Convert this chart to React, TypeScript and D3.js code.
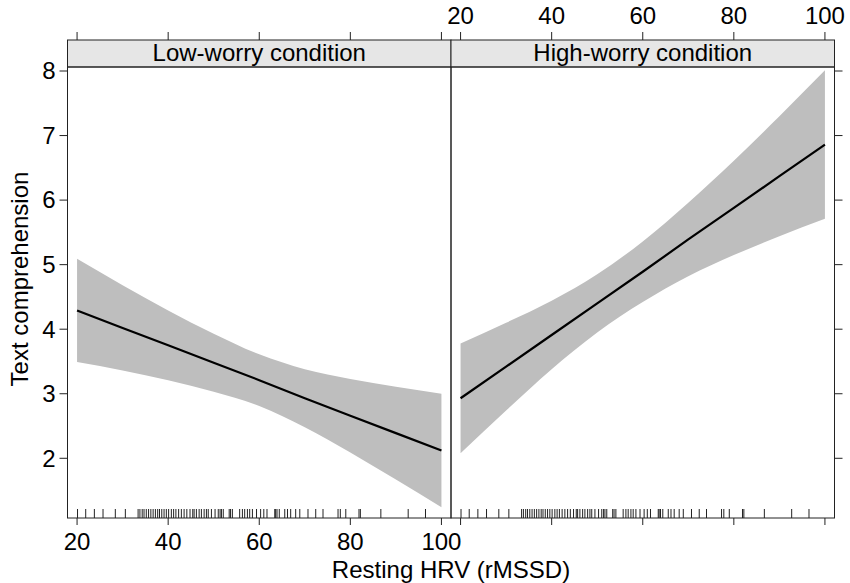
import React from 'react'
import * as d3 from 'd3'

// values, at these HRV points
const hrv = [20, 30, 40, 50, 60, 70, 80, 90, 100]

const lowFit = [4.29, 4.02, 3.75, 3.48, 3.21, 2.93, 2.66, 2.39, 2.12]
const lowUpper = [5.09, 4.68, 4.29, 3.93, 3.61, 3.38, 3.23, 3.11, 3.0]
const lowLower = [3.49, 3.36, 3.21, 3.03, 2.81, 2.48, 2.09, 1.67, 1.24]

const highFit = [2.93, 3.42, 3.91, 4.4, 4.89, 5.39, 5.88, 6.37, 6.86]
const highUpper = [3.78, 4.1, 4.44, 4.85, 5.36, 5.96, 6.61, 7.3, 8.01]
const highLower = [2.08, 2.74, 3.38, 3.95, 4.42, 4.82, 5.15, 5.44, 5.71]

// observed resting HRV values (rug)
const rug = [
    20.1, 21.9, 23.8, 25.7, 28.4, 30.6, 33.4, 33.8, 34.3, 34.7, 35.2, 35.7, 36.2, 36.7,
    37.2, 37.7, 38.1, 38.6, 39.1, 39.6, 40.1, 40.7, 41.2, 41.7, 42.3, 42.9, 43.5, 44.1,
    44.8, 45.4, 45.7, 46.2, 46.8, 47.3, 47.9, 48.4, 48.8, 49.5, 50.3, 51.0, 51.4, 51.7,
    52.1, 53.4, 53.7, 54.1, 55.7, 56.3, 56.8, 57.4, 57.9, 58.5, 59.4, 60.3, 61.0, 61.7,
    63.4, 63.6, 63.9, 64.4, 65.6, 66.2, 66.9, 68.0, 68.9, 70.7, 72.4, 74.0, 77.3, 77.8,
    79.0, 81.9, 82.2, 86.7, 92.7, 96.5,
]

const xTicks = [20, 40, 60, 80, 100]
const yTicks = [2, 3, 4, 5, 6, 7, 8]
const panels = ['Low-worry condition', 'High-worry condition']

const width = 850,
    height = 583
const top = 67,
    bottom = 518,
    left = 67.5,
    panelW = 383.5,
    stripH = 27,
    tick = 8
const font = 'Liberation Sans, Arial, Helvetica, sans-serif'

const App = () => {
    const y = d3.scaleLinear().domain([1.075, 8.062]).range([bottom, top])

    const series = [
        { fit: lowFit, upper: lowUpper, lower: lowLower },
        { fit: highFit, upper: highUpper, lower: highLower },
    ]

    return (
        <svg width={width} height={height} style={{ position: 'absolute', left: 0, top: 0 }} fontFamily={font}>
            <rect width={width} height={height} fill="white" />
            {series.map((s, p) => {
                const x0 = left + p * panelW
                const x = d3.scaleLinear().domain([17.9, 102.1]).range([x0, x0 + panelW])
                const pts = hrv.map((h, i) => ({ h, fit: s.fit[i], up: s.upper[i], lo: s.lower[i] }))
                const band = d3.area<any>()
                    .x(d => x(d.h))
                    .y0(d => y(d.lo))
                    .y1(d => y(d.up))
                    .curve(d3.curveMonotoneX)
                const line = d3.line<any>().x(d => x(d.h)).y(d => y(d.fit))
                // lattice alternates axes: left panel labels below, right panel above
                const labelBelow = p === 0
                return (
                    <g key={p}>
                        <path d={band(pts) || ''} fill="#bebebe" />
                        <path d={line(pts) || ''} fill="none" stroke="black" strokeWidth={2.2} />
                        {rug.map((r, i) => (
                            <line key={i} x1={x(r)} x2={x(r)} y1={bottom} y2={bottom - 9} stroke="#222" strokeWidth={1} />
                        ))}
                        {/* strip */}
                        <rect x={x0} y={top - stripH} width={panelW} height={stripH} fill="#e6e6e6" stroke="#222" />
                        <text x={x0 + panelW / 2} y={top - 6} textAnchor="middle" fontSize={24}>
                            {panels[p]}
                        </text>
                        <rect x={x0} y={top} width={panelW} height={bottom - top} fill="none" stroke="#222" />
                        {xTicks.map(t => (
                            <g key={t}>
                                <line x1={x(t)} x2={x(t)} y1={bottom} y2={bottom + tick - 1} stroke="#222" />
                                <line x1={x(t)} x2={x(t)} y1={top - stripH} y2={top - stripH - tick} stroke="#222" />
                                <text
                                    x={x(t)}
                                    y={labelBelow ? 550 : 23.5}
                                    textAnchor="middle"
                                    fontSize={24}
                                >
                                    {t}
                                </text>
                            </g>
                        ))}
                    </g>
                )
            })}
            {yTicks.map(t => (
                <g key={t}>
                    <line x1={left - tick} x2={left} y1={y(t)} y2={y(t)} stroke="#222" />
                    <line x1={left + 2 * panelW} x2={left + 2 * panelW + tick} y1={y(t)} y2={y(t)} stroke="#222" />
                    <text x={left - 12} y={y(t)} dy="0.35em" textAnchor="end" fontSize={24}>
                        {t}
                    </text>
                </g>
            ))}
            <text x={left + panelW} y={578} textAnchor="middle" fontSize={24}>
                Resting HRV (rMSSD)
            </text>
            <text
                transform={`translate(28,${(top - stripH + bottom) / 2}) rotate(-90)`}
                textAnchor="middle"
                fontSize={24}
            >
                Text comprehension
            </text>
        </svg>
    )
}

export default App
